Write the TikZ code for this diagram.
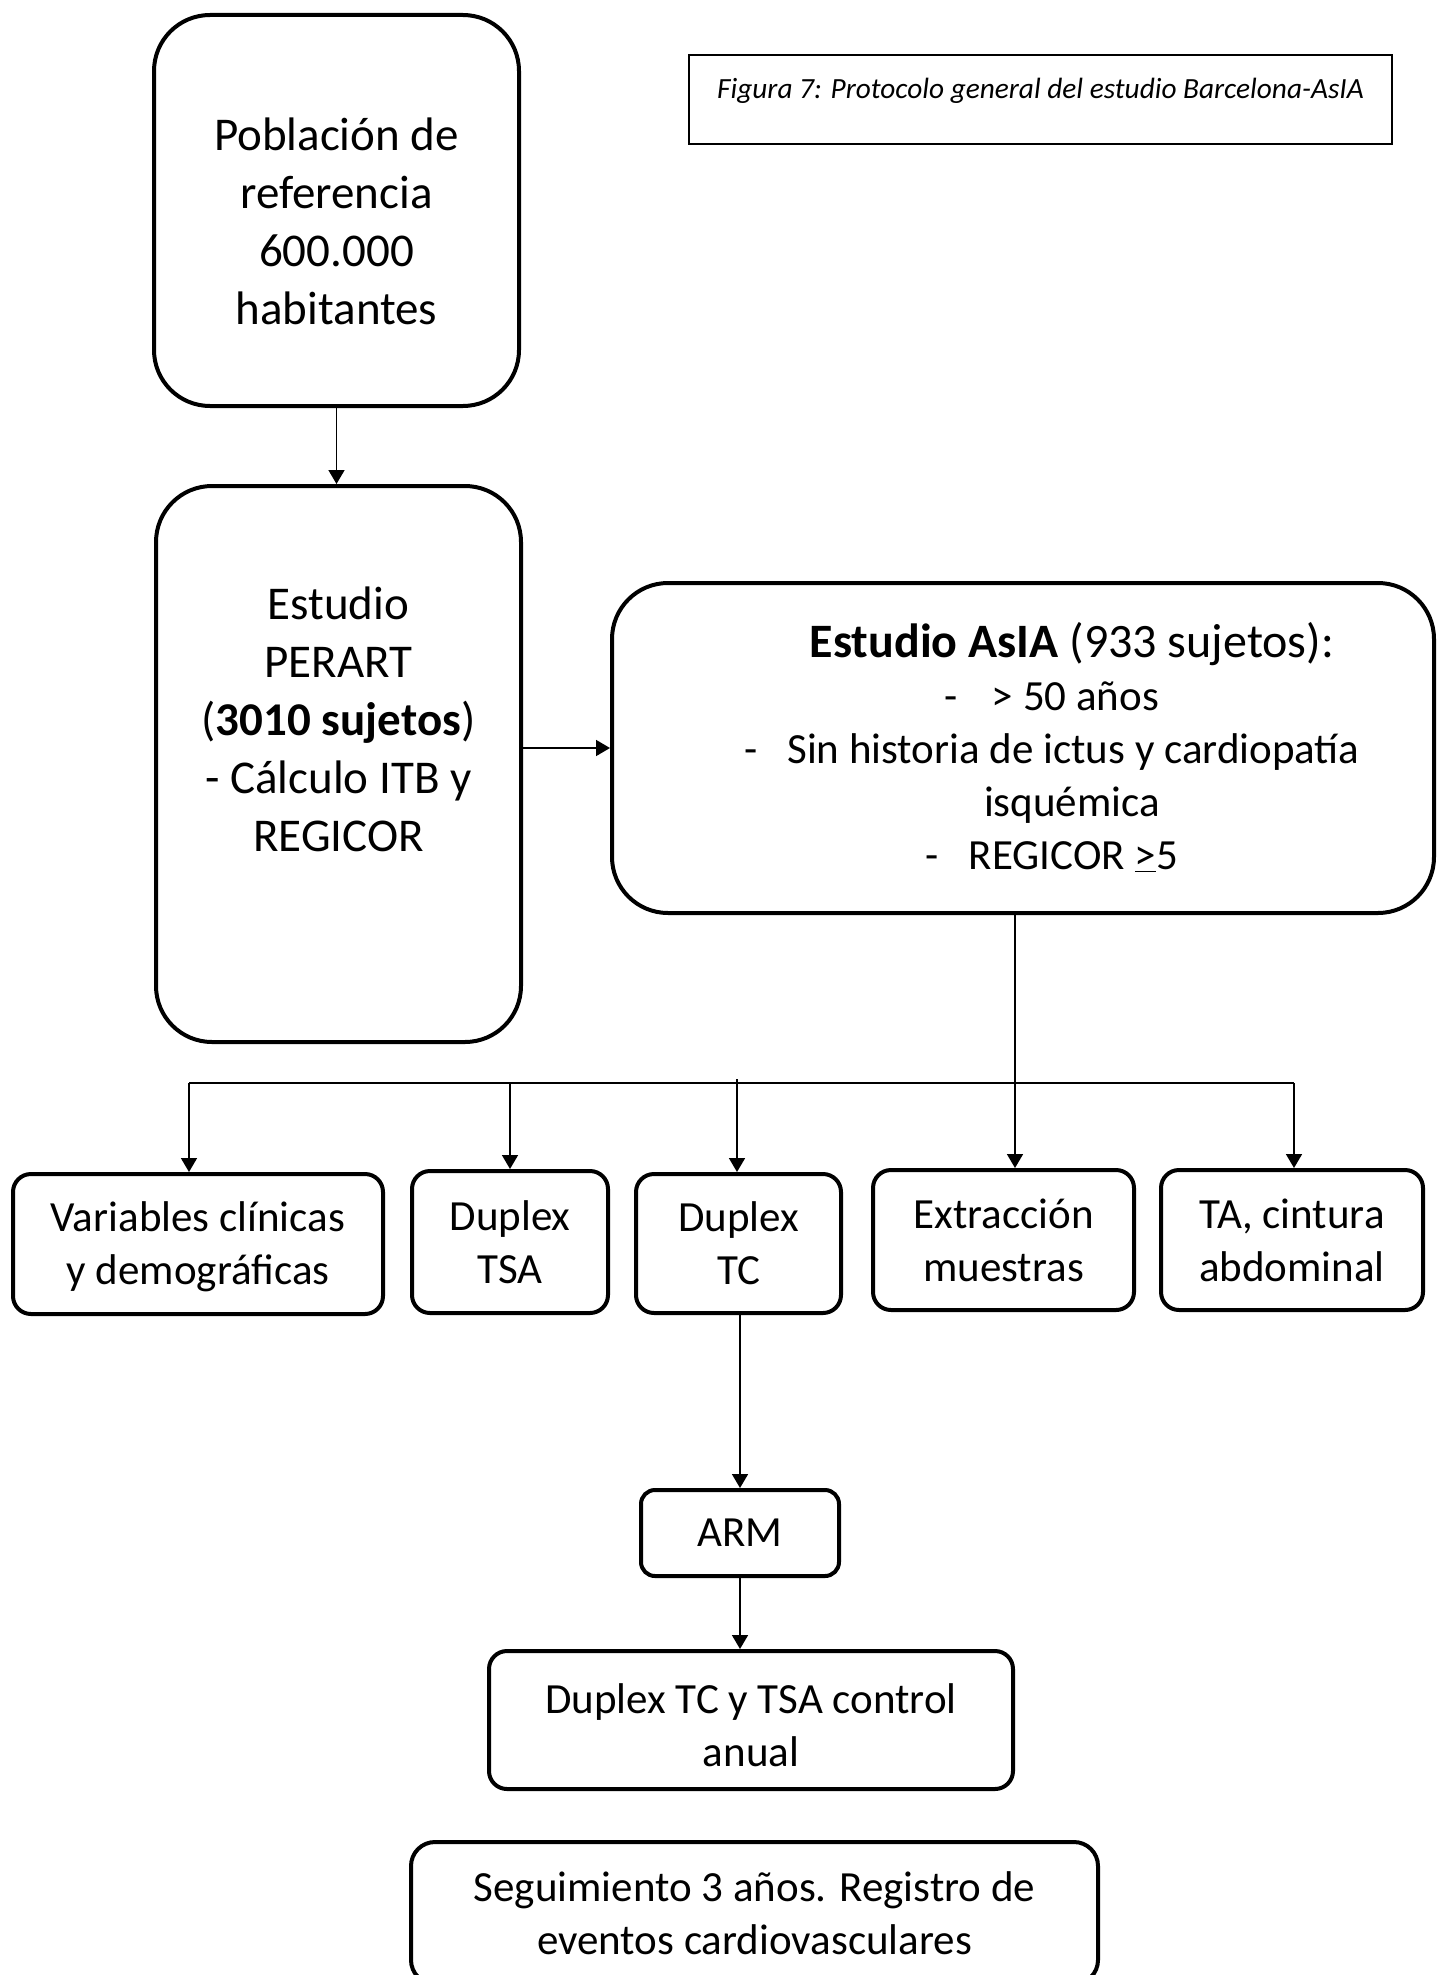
\documentclass[tikz,border=0pt]{standalone}
\usepackage{fontspec}
\setmainfont{Carlito}
\usepackage{tikz}
\usetikzlibrary{arrows.meta,positioning,calc}

\begin{document}
\begin{tikzpicture}[x=0.5pt,y=-0.5pt,
    box/.style={draw,line width=2pt,rounded corners=#1,inner sep=0pt,align=center,font=\fontsize{21.5}{26.5}\selectfont},
    box/.default=9pt,
    link/.style={-{Triangle[length=7pt,width=8pt]},line width=0.85pt},
    bigtxt/.style={font=\fontsize{23.5}{29}\selectfont,align=center},
    txt/.style={font=\fontsize{21.5}{26.5}\selectfont,align=center}]
    \useasboundingbox (0,0) rectangle (1436,1975);
    % Caption
    \node[draw,line width=0.8pt,minimum width=351.5pt,minimum height=44.5pt] (caption) at (1040.5,99.5) {};
    \node[font=\fontsize{14.65}{18}\selectfont\itshape] (captiontxt) at (1040.5,91) {Figura 7: Protocolo general del estudio Barcelona-AsIA};
    % Reference population
    \node[box=28pt,minimum width=182.5pt,minimum height=195.5pt] (pop) at (336.5,210.5) {};
    \node[bigtxt] (poptxt) at (336.5,221) {Población de\\referencia\\600.000\\habitantes};
    % PERART study
    \node[box=28pt,minimum width=182.5pt,minimum height=278pt] (perart) at (338.5,764) {};
    \node[bigtxt] (perarttxt) at (338.5,719) {Estudio\\PERART\\(\textbf{3010 sujetos})\\- Cálculo ITB y\\REGICOR};
    % AsIA study
    \node[box=28pt,minimum width=411pt,minimum height=165pt] (asia) at (1023,748) {};
    \node[txt] (asiatxt) at (1052,747.5)
      {\hspace*{20pt}{\fontsize{24}{26.5}\selectfont\textbf{Estudio AsIA} (933 sujetos):}\\
       \makebox[23.5pt][l]{-}> 50 años\\
       \makebox[21.5pt][l]{-}Sin historia de ictus y cardiopatía\\
       \hspace*{20pt}isquémica\\
       \makebox[21.5pt][l]{-}REGICOR \underline{>}5};
    % Measurements
    \node[box,minimum width=185pt,minimum height=70pt] (vars) at (198,1244) {};
    \node[txt] (varstxt) at (198,1247) {Variables clínicas\\y demográficas};
    \node[box,minimum width=98pt,minimum height=71pt] (tsa) at (510,1242) {Duplex\\TSA};
    \node[box,minimum width=102.5pt,minimum height=69.5pt] (tc) at (738.5,1243.5) {Duplex\\TC};
    \node[box,minimum width=130.5pt,minimum height=70pt] (extr) at (1003.5,1240) {Extracción\\muestras};
    \node[box,minimum width=131pt,minimum height=70pt] (ta) at (1292,1240) {TA, cintura\\abdominal};
    % Follow-up
    \node[box=7pt,minimum width=99pt,minimum height=43pt] (arm) at (740,1533) {ARM};
    \node[box,minimum width=262pt,minimum height=69pt] (ctrl) at (751,1720) {};
    \node[txt] (ctrltxt) at (751,1725) {Duplex TC y TSA control\\anual};
    \node[box=12pt,minimum width=343.5pt,minimum height=71pt] (seg) at (754.5,1913) {Seguimiento 3 años. Registro de\\eventos cardiovasculares};
    % Connectors
    \draw[link] (pop.south) -- (pop.south |- perart.north);
    \draw[link] (perart.east |- asia.west) -- (asia.west);
    \coordinate (b1) at (189,1083);
    \coordinate (b2) at (510,1083);
    \coordinate (b3) at (737,1083);
    \coordinate (b4) at (1015,1083);
    \coordinate (b5) at (1294,1083);
    \draw[line width=1pt] (b1) -- (b5);
    \draw[line width=0.85pt] (asia.south -| b4) -- (b4);
    \draw[link] (b1) -- (b1 |- vars.north);
    \draw[link] (b2) -- (b2 |- tsa.north);
    \draw[link] ([yshift=2pt]b3) -- (b3 |- tc.north);
    \draw[link] (b4) -- (b4 |- extr.north);
    \draw[link] (b5) -- (b5 |- ta.north);
    \draw[link] (tc.south -| arm.north) -- (arm.north);
    \draw[link] (arm.south) -- (arm.south |- ctrl.north);
\end{tikzpicture}
\end{document}
